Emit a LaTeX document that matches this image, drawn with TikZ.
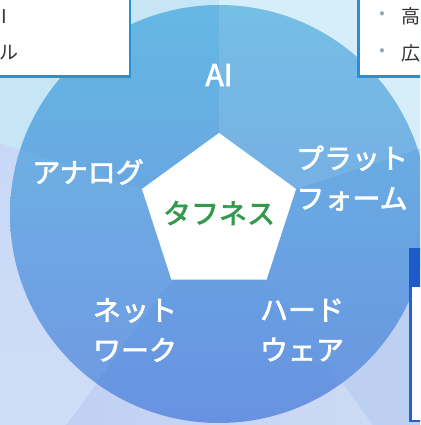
\documentclass[tikz,border=0pt]{standalone}
\usepackage{fontspec}
\newfontfamily\jp{Noto Sans CJK JP}
\newfontfamily\jpb{Noto Sans CJK JP}[FakeBold=2.5]
\usetikzlibrary{shapes.geometric}
\definecolor{bgTL}{RGB}{198,230,246}
\definecolor{bgTR}{RGB}{214,238,249}
\definecolor{bgR}{RGB}{190,208,242}
\definecolor{bgBl}{RGB}{183,200,240}
\definecolor{bgBr}{RGB}{215,226,248}
\definecolor{bgLt}{RGB}{197,213,245}
\definecolor{bgLb}{RGB}{216,228,248}
\definecolor{circTop}{RGB}{102,184,227}
\definecolor{circBot}{RGB}{104,146,225}
\definecolor{boxcyan}{RGB}{40,145,212}
\definecolor{boxblue}{RGB}{38,96,208}
\definecolor{headblue}{RGB}{30,90,200}
\definecolor{tgreen}{RGB}{51,154,76}
\definecolor{txtgray}{RGB}{50,50,50}
\definecolor{bulgray}{RGB}{150,165,175}
\tikzset{
  lbl/.style={text=white, font=\jpb\fontsize{28}{40}\selectfont, align=center, inner sep=0pt},
  boxtxt/.style={text=txtgray, font=\jp\fontsize{19}{22}\selectfont, inner sep=0pt},
  bul/.style={text=bulgray, font=\jp\fontsize{16}{18}\selectfont, inner sep=0pt},
  cbox/.style={draw=boxcyan, line width=2.5pt, fill=white, inner sep=0pt},
}
\begin{document}
\begin{tikzpicture}[x=1pt,y=1pt]
\useasboundingbox (0,0) rectangle (420,425);
\clip (0,0) rectangle (420,425);
\coordinate (C) at (219,211);
\path (C) ++(90:700pt) coordinate (R90)
      (C) ++(18:700pt) coordinate (R18)
      (C) ++(-54:700pt) coordinate (R306)
      (C) ++(-126:700pt) coordinate (R234)
      (C) ++(162:700pt) coordinate (R162);
% background wedges
\fill[bgTL] (C) -- (R90) -- (R162) -- cycle;
\fill[bgTR] (C) -- (R18) -- (R90) -- cycle;
\fill[bgR] (C) -- (R306) -- (R18) -- cycle;
\shade[left color=bgBl, right color=bgBr] (C) -- (R234) -- (R306) -- cycle;
\shade[top color=bgLt, bottom color=bgLb] (C) -- (R162) -- (R234) -- cycle;
% circle with sectors
\shade[top color=circTop, bottom color=circBot] (C) circle[radius=209pt];
\fill[white, opacity=0.10] (C) -- ++(18:209pt) arc[start angle=18, end angle=90, radius=209pt] -- cycle;
\fill[white, opacity=0.05] (C) -- ++(162:209pt) arc[start angle=162, end angle=234, radius=209pt] -- cycle;
\fill[white, opacity=0.02] (C) -- ++(-54:209pt) arc[start angle=-54, end angle=18, radius=209pt] -- cycle;
% pentagon
\node[regular polygon, regular polygon sides=5, minimum size=162pt, fill=white, inner sep=0pt] (pent) at (C) {};
\node[text=tgreen, font=\jpb\fontsize{28}{32}\selectfont, inner sep=0pt] (tough) at (219,212) {タフネス};
% labels
\node[lbl, font=\jpb\fontsize{30}{40}\selectfont] (ai) at (219,350) {AI};
\node[lbl] (plat) at (352,247) {プラット\\フォーム};
\node[lbl] (hard) at (302,95) {ハード\\ウェア};
\node[lbl] (net) at (135,95) {ネット\\ワーク};
\node[lbl] (ana) at (88,253) {アナログ};
% top-left box
\node[cbox, anchor=south east, minimum width=170pt, minimum height=110pt] (lbox) at (131,347) {};
\node[boxtxt, anchor=west] (lt1) at (1,408) {I};
\node[boxtxt] (lt2) at (9,372) {ル};
% top-right box
\node[cbox, anchor=south west, minimum width=110pt, minimum height=110pt] (rbox) at (357,347) {};
\node[bul] (b1) at (382,410) {•};
\node[bul] (b2) at (382,373) {•};
\node[boxtxt, anchor=west] (rt1) at (401,409) {高};
\node[boxtxt, anchor=west] (rt2) at (401,372) {広};
% bottom-right box
\node[draw=boxblue, line width=2.5pt, fill=white, anchor=north west, minimum width=60pt, minimum height=172pt, inner sep=0pt] (bbox) at (409,177) {};
\fill[headblue] (bbox.north west) rectangle ([yshift=-39pt]bbox.north east);
\end{tikzpicture}
\end{document}
